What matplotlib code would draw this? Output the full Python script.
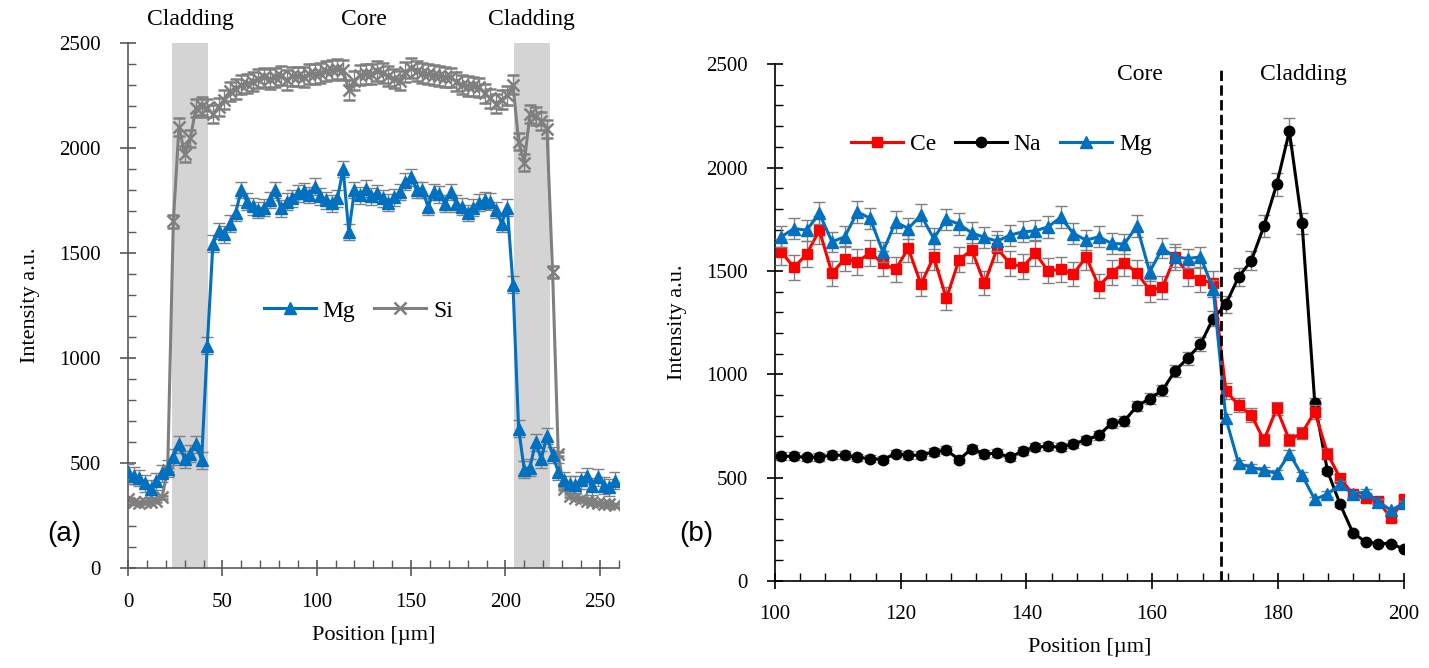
import numpy as np
import matplotlib
matplotlib.use("Agg")
import matplotlib.pyplot as plt
from matplotlib.ticker import MultipleLocator
from matplotlib.lines import Line2D

plt.rcParams['font.family'] = ['Liberation Serif', 'DejaVu Serif']

# ---- panel (a): line scan across the fibre ----
pos_a = np.arange(0, 259, 3)
mg_a = [458, 442, 430, 405, 380, 415, 452, 474, 530, 590,
        520, 545, 590, 515, 1060, 1545, 1605, 1590, 1640, 1690,
        1800, 1745, 1722, 1705, 1715, 1752, 1800, 1713, 1744, 1760,
        1785, 1795, 1776, 1815, 1770, 1750, 1737, 1760, 1900, 1600,
        1800, 1775, 1805, 1770, 1785, 1760, 1740, 1765, 1790, 1840,
        1860, 1800, 1800, 1720, 1790, 1780, 1735, 1790, 1735, 1720,
        1690, 1715, 1740, 1750, 1745, 1705, 1640, 1715, 1350, 665,
        470, 480, 600, 520, 630, 540, 460, 420, 400, 398,
        420, 440, 390, 434, 394, 386, 418]
si_a = [330, 315, 312, 315, 318, 322, 338, 470, 1650, 2100,
        1970, 2045, 2190, 2200, 2190, 2160, 2195, 2230, 2270, 2280,
        2300, 2305, 2315, 2330, 2335, 2328, 2335, 2344, 2322, 2340,
        2340, 2338, 2350, 2352, 2355, 2367, 2372, 2375, 2370, 2275,
        2320, 2345, 2350, 2350, 2365, 2355, 2343, 2330, 2320, 2360,
        2380, 2365, 2355, 2350, 2348, 2343, 2338, 2335, 2315, 2300,
        2295, 2292, 2288, 2260, 2235, 2210, 2230, 2250, 2300, 2030,
        1930, 2160, 2150, 2130, 2090, 1410, 545, 380, 345, 335,
        330, 322, 315, 310, 308, 305, 300]
mg_a_err = 40
si_a_rel_err = 0.02
cladding_a = [(23.5, 42.5), (204.5, 223.5)]

# ---- panel (b): core / cladding interface ----
pos_b = np.linspace(101, 200, 50)
ce_b = [1592, 1517, 1581, 1697, 1488, 1560, 1544, 1588, 1536, 1507,
        1609, 1436, 1568, 1367, 1555, 1601, 1440, 1609, 1536, 1520,
        1585, 1501, 1507, 1485, 1568, 1426, 1491, 1539, 1491, 1407,
        1420, 1568, 1488, 1456, 1443, 920, 851, 803, 682, 835,
        682, 717, 819, 617, 497, 421, 400, 388, 303, 395]
na_b = [604, 604, 598, 601, 609, 609, 598, 593, 588, 617,
        609, 609, 625, 633, 588, 641, 614, 620, 598, 630,
        647, 653, 647, 664, 682, 706, 763, 775, 846, 882,
        922, 1017, 1078, 1146, 1270, 1339, 1471, 1549, 1717, 1918,
        2176, 1730, 862, 533, 371, 234, 190, 182, 182, 155]
mg_b = [1665, 1705, 1697, 1778, 1641, 1665, 1786, 1754, 1592, 1737,
        1705, 1770, 1657, 1749, 1726, 1684, 1662, 1644, 1673, 1689,
        1694, 1713, 1759, 1681, 1649, 1665, 1633, 1630, 1717, 1496,
        1609, 1568, 1560, 1568, 1415, 787, 569, 550, 537, 521,
        617, 512, 395, 421, 469, 421, 432, 384, 343, 376]
ce_rel_err = 0.04
na_rel_err = 0.03
mg_rel_err = 0.03
interface_b = 171

BLUE = '#0070C0'
GREY = '#7F7F7F'
ERR = '#808080'


def style_axes(ax, axis_color):
    for side in ['top', 'right']:
        ax.spines[side].set_visible(False)
    for side in ['left', 'bottom']:
        ax.spines[side].set_color(axis_color)
        ax.spines[side].set_linewidth(1.2)
    ax.tick_params(which='major', direction='inout', length=11, width=1.2,
                   colors=axis_color, labelcolor='black', labelsize=15)
    ax.tick_params(axis='x', which='major', pad=12)
    ax.tick_params(axis='y', which='major', pad=14)
    ax.tick_params(which='minor', direction='in', length=6, width=1.0,
                   colors=axis_color)


def legend_handle(color, marker, ms=8, mew=1.0):
    return Line2D([], [], color=color, marker=marker, ms=ms, mew=mew, lw=2.2)


fig = plt.figure(figsize=(14.29, 6.68), dpi=100)

# (a)
ax1 = fig.add_axes([0.0896, 0.149, 0.3433, 0.787])
for lo, hi in cladding_a:
    ax1.axvspan(lo, hi, color='#D4D4D4', zorder=0, lw=0)
si_a = np.array(si_a)
ax1.errorbar(pos_a, si_a, yerr=si_a * si_a_rel_err, color=GREY, marker='x',
             ms=8, mew=1.8, lw=2.2, ecolor=ERR, elinewidth=1, capsize=4,
             capthick=1, zorder=2)
ax1.errorbar(pos_a, mg_a, yerr=mg_a_err, color=BLUE, marker='^', ms=8,
             lw=2.2, ecolor=ERR, elinewidth=1, capsize=4, capthick=1,
             zorder=3)
ax1.set_xlim(0, 260)
ax1.set_ylim(0, 2500)
ax1.xaxis.set_major_locator(MultipleLocator(50))
ax1.xaxis.set_minor_locator(MultipleLocator(10))
ax1.yaxis.set_major_locator(MultipleLocator(500))
ax1.yaxis.set_minor_locator(MultipleLocator(100))
style_axes(ax1, '#595959')
ax1.set_xlabel('Position [µm]', fontsize=16, labelpad=10)
ax1.set_ylabel('Intensity a.u.', fontsize=16, labelpad=14)
ax1.legend([legend_handle(BLUE, '^'), legend_handle(GREY, 'x', mew=1.8)],
           ['Mg', 'Si'], ncol=2, frameon=False, fontsize=17,
           loc='center', bbox_to_anchor=(0.47, 0.49), handlelength=2.2,
           columnspacing=0.8, handletextpad=0.3)
ax1.text(33, 2560, 'Cladding', ha='center', va='bottom', fontsize=17)
ax1.text(125, 2560, 'Core', ha='center', va='bottom', fontsize=17)
ax1.text(214, 2560, 'Cladding', ha='center', va='bottom', fontsize=17)
fig.text(0.033, 0.19, '(a)', fontsize=20, family='Liberation Sans')

# (b)
ax2 = fig.add_axes([0.5423, 0.130, 0.440, 0.774])
ce_b = np.array(ce_b)
na_b = np.array(na_b)
mg_b = np.array(mg_b)
ax2.errorbar(pos_b, ce_b, yerr=ce_b * ce_rel_err, color='#FF0000',
             marker='s', ms=7.5, lw=2.2, ecolor=ERR, elinewidth=1,
             capsize=4, capthick=1, zorder=3)
ax2.errorbar(pos_b, na_b, yerr=na_b * na_rel_err, color='black',
             marker='o', ms=7.5, lw=2.2, ecolor=ERR, elinewidth=1,
             capsize=4, capthick=1, zorder=2)
ax2.errorbar(pos_b, mg_b, yerr=mg_b * mg_rel_err, color=BLUE,
             marker='^', ms=8, lw=2.2, ecolor=ERR, elinewidth=1,
             capsize=4, capthick=1, zorder=4)
ax2.axvline(interface_b, ymax=0.99, color='black', ls='--', lw=2, zorder=5)
ax2.set_xlim(100, 200)
ax2.set_ylim(0, 2500)
ax2.xaxis.set_major_locator(MultipleLocator(20))
ax2.xaxis.set_minor_locator(MultipleLocator(4))
ax2.yaxis.set_major_locator(MultipleLocator(500))
ax2.yaxis.set_minor_locator(MultipleLocator(100))
style_axes(ax2, 'black')
ax2.set_xlabel('Position [µm]', fontsize=16, labelpad=10)
ax2.set_ylabel('Intensity a.u.', fontsize=16, labelpad=14)
ax2.legend([legend_handle('#FF0000', 's', ms=7.5),
            legend_handle('black', 'o', ms=7.5),
            legend_handle(BLUE, '^')],
           ['Ce', 'Na', 'Mg'], ncol=3, frameon=False, fontsize=17,
           loc='center', bbox_to_anchor=(0.36, 0.845), handlelength=2.2,
           columnspacing=0.8, handletextpad=0.3)
ax2.text(158, 2400, 'Core', ha='center', va='bottom', fontsize=17)
ax2.text(184, 2400, 'Cladding', ha='center', va='bottom', fontsize=17)
fig.text(0.475, 0.19, '(b)', fontsize=20, family='Liberation Sans')

fig.savefig('out.png', dpi=100)
